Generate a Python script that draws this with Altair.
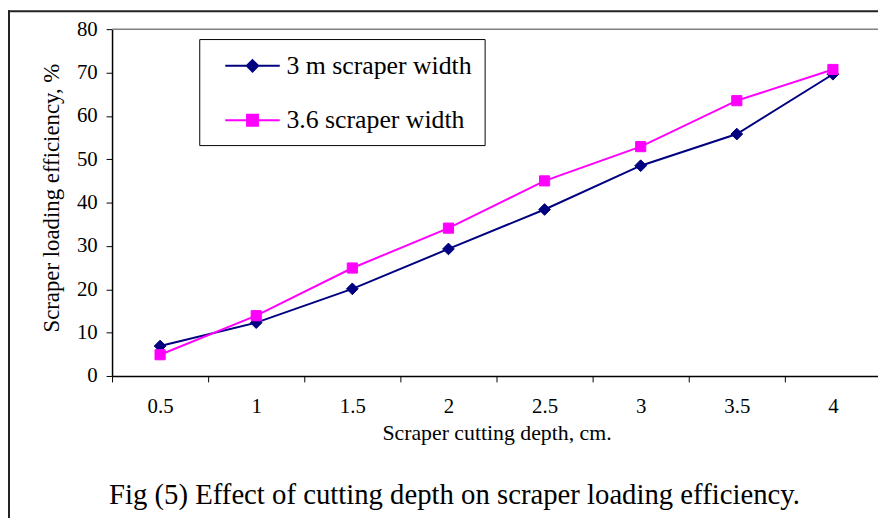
import altair as alt
import pandas as pd

# ---- data ----
depth = ["0.5", "1", "1.5", "2", "2.5", "3", "3.5", "4"]
width_3m = [6.9, 12.3, 20.1, 29.3, 38.4, 48.5, 55.8, 69.6]
width_36 = [4.9, 13.9, 24.9, 34.1, 45.0, 52.9, 63.5, 70.7]
series_names = ["3 m scraper width", "3.6 scraper width"]
series_colors = ["#000080", "#FF00FF"]
y_ticks = [0, 10, 20, 30, 40, 50, 60, 70, 80]
caption = "Fig (5) Effect of cutting depth on scraper loading efficiency."

df = pd.DataFrame({
    "depth": depth * 2,
    "eff": width_3m + width_36,
    "series": [series_names[0]] * len(depth) + [series_names[1]] * len(depth),
})

FONT = "Liberation Serif"
PW, PH = 773, 350
XRANGE = 776

# legend symbols: line segment with marker (custom paths, unit box -1..1)
legend_paths = [
    "M-1,0H3M1,-0.42L1.42,0L1,0.42L0.58,0Z",
    "M-1,0H3M0.6,-0.4H1.4V0.4H0.6Z",
]

x_enc = alt.X(
    "depth:O",
    sort=depth,
    scale=alt.Scale(type="band", paddingInner=0, paddingOuter=0, range=[0, XRANGE]),
    axis=alt.Axis(
        title="Scraper cutting depth, cm.",
        tickBand="extent",
        labelAngle=0,
        labelFont=FONT, labelFontSize=21, labelColor="black", labelPadding=14,
        titleFont=FONT, titleFontSize=22, titleFontWeight="normal", titleColor="black",
        titlePadding=6,
        tickSize=6, tickColor="black", domainColor="black", domainWidth=1.5, tickWidth=1,
        grid=False,
    ),
)
y_enc = alt.Y(
    "eff:Q",
    scale=alt.Scale(domain=[0, 80], nice=False),
    axis=alt.Axis(
        values=y_ticks,
        title="Scraper loading efficiency, %",
        labelFont=FONT, labelFontSize=21, labelColor="black", labelPadding=9,
        titleFont=FONT, titleFontSize=23, titleFontWeight="normal", titleColor="black",
        titlePadding=13, titleY=170,
        tickSize=6, tickColor="black", domainColor="black", domainWidth=1.5, tickWidth=1,
        grid=False,
    ),
)

base = alt.Chart(df)
styles = [
    (series_names[0], series_colors[0], "diamond", 140),
    (series_names[1], series_colors[1], "square", 105),
]
layers = []
for name, color, shape, size in styles:
    sub = base.transform_filter(alt.datum.series == name)
    layers.append(sub.mark_line(color=color, strokeWidth=2).encode(x=x_enc, y=y_enc))
for name, color, shape, size in styles:
    sub = base.transform_filter(alt.datum.series == name)
    layers.append(
        sub.mark_point(shape=shape, filled=True, size=size, color=color, stroke=color,
                       strokeWidth=1, opacity=1).encode(x=x_enc, y=y_enc)
    )

leg = alt.Legend(
    title=None, orient="none", legendX=88, legendY=10, direction="vertical",
    fillColor="white", strokeColor="black", padding=12,
    labelFont=FONT, labelFontSize=26, labelColor="black", labelLimit=500,
    symbolSize=756, symbolStrokeWidth=2, symbolOpacity=1,
    symbolOffset=13, labelOffset=33, rowPadding=27,
)
legend_layer = base.transform_filter("false").mark_point(filled=True, strokeWidth=2, opacity=1).encode(
    fill=alt.Fill("series:N", scale=alt.Scale(domain=series_names, range=series_colors), legend=leg),
    stroke=alt.Stroke("series:N", scale=alt.Scale(domain=series_names, range=series_colors), legend=leg),
    shape=alt.Shape("series:N", scale=alt.Scale(domain=series_names, range=legend_paths), legend=leg),
)
layers.append(legend_layer)

one = alt.Chart(pd.DataFrame({"k": [0]}))
plot_top = one.mark_rule(color="#808080", strokeWidth=1.5).encode(
    x=alt.value(0), x2=alt.value(XRANGE + 20), y=alt.value(0))
frame_top = one.mark_rule(color="#222222", strokeWidth=2).encode(
    x=alt.value(-106), x2=alt.value(XRANGE + 20), y=alt.value(-18))
frame_left = one.mark_rule(color="#222222", strokeWidth=2).encode(
    x=alt.value(-104), y=alt.value(-19), y2=alt.value(PH + 200))
caption_text = one.mark_text(
    text=caption, align="left", baseline="alphabetic", font=FONT, fontSize=29, color="black"
).encode(x=alt.value(-3), y=alt.value(479))

chart = alt.layer(frame_top, frame_left, plot_top, caption_text, *layers).properties(
    width=PW,
    height=PH,
    padding={"left": 105, "top": 19, "right": 0, "bottom": 141},
    autosize=alt.AutoSizeParams(type="none"),
).configure(background="white", font=FONT).configure_view(stroke=None).configure_legend(
    labelFont=FONT, labelFontSize=26, labelColor="black"
)

chart.save("out.html", embed_options={"renderer": "svg", "actions": False})
